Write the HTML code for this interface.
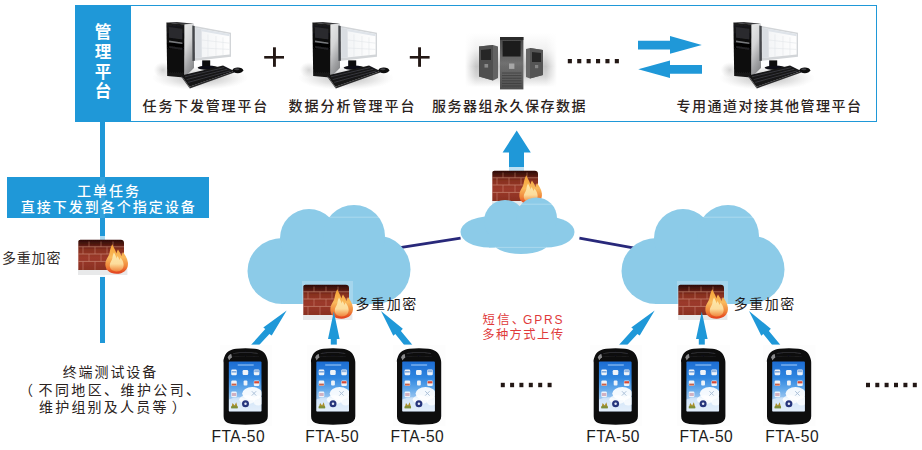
<!DOCTYPE html>
<html lang="zh-CN">
<head>
<meta charset="utf-8">
<title>管理平台 – 工单任务下发与终端数据上传架构图</title>
<style>
html,body{margin:0;padding:0;background:#fff}
body{width:922px;height:450px;overflow:hidden;font-family:"Liberation Sans",sans-serif}
#stage{position:relative;width:922px;height:450px;overflow:hidden;background:#fff}
#stage>*{position:absolute}
.platform{left:75px;top:5px;width:802px;height:117px;box-sizing:border-box;border:1px solid #1f98d8;background:#fff}
.ptitle{left:75px;top:5px;width:56.3px;height:117px;background:#1f98d8}
.vline{left:99.6px;top:122px;width:5.5px;height:221.4px;background:#1f98d8}
.banner{left:7px;top:177px;width:202px;height:41px;background:#1f98d8}
.banner i{position:absolute;left:92.6px;top:0;width:5.5px;height:41px;background:#34a2dc}
#art{left:0;top:0;width:922px;height:450px}
#art text{font-family:"Liberation Sans",sans-serif}
.tx{color:#2a2220;white-space:nowrap;line-height:1;margin-top:.4px;font-family:"Liberation Sans","Noto Sans CJK SC",sans-serif;pointer-events:none}
</style>
</head>
<body>
<div id="stage">
<div class="platform"></div>
<div class="ptitle"></div>
<div class="vline"></div>
<div class="banner"><i></i></div>
<svg id="art" width="922" height="450" viewBox="0 0 922 450">
<defs>
<linearGradient id="gSide" x1="0" y1="0" x2=".35" y2="1"><stop offset="0" stop-color="#e9eaea"/><stop offset=".45" stop-color="#d4d5d6"/><stop offset=".8" stop-color="#a2a3a5"/><stop offset="1" stop-color="#8c8d8f"/></linearGradient>
<linearGradient id="gFront" x1="0" y1="0" x2="0" y2="1"><stop offset="0" stop-color="#1d1d1f"/><stop offset=".4" stop-color="#050505"/><stop offset="1" stop-color="#141414"/></linearGradient>
<radialGradient id="gShadow" cx=".5" cy=".5" r=".5"><stop offset="0" stop-color="#777" stop-opacity=".55"/><stop offset=".6" stop-color="#999" stop-opacity=".25"/><stop offset="1" stop-color="#bbb" stop-opacity="0"/></radialGradient>
<linearGradient id="gScr" x1="0" y1="0" x2="1" y2="0"><stop offset="0" stop-color="#f1f3f5"/><stop offset="1" stop-color="#fefefe"/></linearGradient>
<filter id="soft" x="-5%" y="-5%" width="110%" height="110%"><feGaussianBlur stdDeviation=".38"/></filter>
<linearGradient id="gSrvBg" x1="0" y1="0" x2="0" y2="1"><stop offset="0" stop-color="#fff"/><stop offset=".3" stop-color="#f1f1f1"/><stop offset=".62" stop-color="#c6c6c6"/><stop offset=".8" stop-color="#d5d5d5"/><stop offset="1" stop-color="#fff"/></linearGradient>
<linearGradient id="gSrvFade" x1="0" y1="0" x2="1" y2="0"><stop offset="0" stop-color="#fff"/><stop offset=".12" stop-color="#fff" stop-opacity="0"/><stop offset=".88" stop-color="#fff" stop-opacity="0"/><stop offset="1" stop-color="#fff"/></linearGradient>
<linearGradient id="gSrv" x1="0" y1="0" x2="0" y2="1"><stop offset="0" stop-color="#474747"/><stop offset=".5" stop-color="#707070"/><stop offset="1" stop-color="#4e4e4e"/></linearGradient>
<linearGradient id="gWall" x1="0" y1="0" x2="0" y2="1"><stop offset="0" stop-color="#2c0c05"/><stop offset=".14" stop-color="#4e170d"/><stop offset=".32" stop-color="#87301f"/><stop offset=".6" stop-color="#9c3a2b"/><stop offset="1" stop-color="#8a3022"/></linearGradient>
<linearGradient id="gFlame" x1="0" y1="0" x2="0" y2="1"><stop offset="0" stop-color="#f6a233"/><stop offset=".45" stop-color="#f9b95c"/><stop offset=".74" stop-color="#f0863a"/><stop offset="1" stop-color="#e23c1b"/></linearGradient>
<linearGradient id="gFlameIn" x1="0" y1="0" x2="0" y2="1"><stop offset="0" stop-color="#fde9ac"/><stop offset=".6" stop-color="#fcdc9c"/><stop offset="1" stop-color="#f39a4c" stop-opacity=".7"/></linearGradient>
<linearGradient id="gPhScr" x1="0" y1="0" x2="0" y2="1"><stop offset="0" stop-color="#1d6cd2"/><stop offset=".32" stop-color="#2f86e0"/><stop offset=".55" stop-color="#62a8ea"/><stop offset=".78" stop-color="#a9cdf2"/><stop offset="1" stop-color="#c9def6"/></linearGradient>

<g id="pc">
 <ellipse cx="50" cy="68" rx="48" ry="12" fill="url(#gShadow)"/>
 <ellipse cx="13" cy="60" rx="9.5" ry="8" fill="url(#gShadow)" opacity=".6"/>
 <polygon points="16.4,12.4 27,11.9 44,13.8 34.4,14.8" fill="#39393b"/>
 <polygon points="34.4,14.6 44,13.8 44,58 34.2,67.6" fill="url(#gSide)"/>
 <polygon points="16.4,12.4 34.4,14.6 34.2,67.6 17.2,66" fill="url(#gFront)"/>
 <polygon points="18.8,17 32.4,18.8 32.4,29.4 19,27.8" fill="#2a2a2d"/>
 <polygon points="19,30.6 32.4,32.4 32.4,34 19,32.2" fill="#77797c"/>
 <polygon points="19.2,36 32.4,38 32.4,40 19.2,38" fill="#232325"/>
 <polygon points="42.3,15.6 81,22.7 81,46.7 45,50.8 42.3,51" fill="#d2d5d8"/>
 <polygon points="42.3,15.6 44.7,16 44.9,50.8 42.3,51" fill="#45474b"/>
 <polygon points="45.4,17.8 79.6,24.1 79.6,44.6 45.6,48.1" fill="url(#gScr)"/>
 <polygon points="45.4,17.8 51.6,18.9 51.8,47.5 45.6,48.1" fill="#d9dde2"/>
 <polygon points="51.6,18.9 79.6,24.1 79.6,26.2 51.6,21.3" fill="#dfe4ea"/>
 <g stroke="#e3e6ea" stroke-width=".6" fill="none"><path d="M58 24.4V46.6M66 26V45.8M73 27.4V45M52 30l27.6 3.2M52 38l27.6 1.4"/></g>
 <rect x="52.2" y="50.4" width="8" height="7" fill="#08080a"/>
 <ellipse cx="58" cy="57.8" rx="10.4" ry="2.2" fill="#111113"/>
 <polygon points="31.4,65.4 73,55.6 84.2,61 39.4,76.8" fill="#151517"/>
 <polygon points="31.4,65.4 39.4,76.8 39.8,78.4 31.4,67" fill="#3a3a3c"/>
 <polygon points="39.4,76.8 84.2,61 84.4,62.4 39.8,78.4" fill="#2a2a2c"/>
 <g stroke="#45454a" stroke-width=".7" fill="none"><path d="M35 66.8L74.2 57.6M36.6 69.6L77.4 59.2M38.2 72.4L80.4 60.8"/></g>
 <ellipse cx="87.8" cy="60.3" rx="5.4" ry="2.9" fill="#0c0c0e"/>
 <ellipse cx="86.8" cy="59.3" rx="2.6" ry="1" fill="#3c3c40"/>
</g>

<g id="srv">
 <rect x="25" y="13" width="92" height="54" fill="url(#gSrvBg)"/>
 <rect x="25" y="13" width="92" height="54" fill="url(#gSrvFade)"/>
 <polygon points="39,26.5 53,25 58,26.5 58,58 53,60.5 39,56.5" fill="#626262"/>
 <polygon points="39,26.5 53,25 53,60.5 39,56.5" fill="#505050"/>
 <polygon points="41,30 51,29 51,40 41,40" fill="#262626"/>
 <rect x="44.5" y="44" width="3.6" height="3.6" fill="#8a8a8a"/>
 <polygon points="86,29 90,28 103,30 103,55 90,58.5 86,57" fill="#666"/>
 <polygon points="90,28 103,30 103,55 90,58.5" fill="#545454"/>
 <polygon points="92,32 101,33 101,42 92,42" fill="#282828"/>
 <rect x="95" y="45" width="3.2" height="3.2" fill="#858585"/>
 <rect x="60" y="17" width="23.4" height="52.4" fill="url(#gSrv)"/>
 <rect x="60" y="17" width="23.4" height="3" fill="#2a2a2a"/>
 <rect x="62.6" y="21" width="18" height="15.5" fill="#1c1c1c"/>
 <rect x="69" y="43.5" width="5.4" height="5.4" fill="#a6a6a6"/>
 <g stroke="#3c3c3c" stroke-width=".8"><path d="M62 53h19.4M62 55.6h19.4M62 58.2h19.4M62 60.8h19.4M62 63.4h19.4M62 66h19.4"/></g>
</g>

<g id="fw">
 <rect x="0" y="33" width="51" height="8" fill="#fff" opacity=".85"/>
 <rect x="1" y="33" width="49.4" height="6" fill="#e8e9ea"/>
 <path d="M1.3 34V5.8C1.3 4.6 2.2 3.8 3.4 3.8H43.8C45.8 3.8 47 5 47 7V34Z" fill="url(#gWall)"/>
 <g stroke="#d79a88" stroke-width=".8" opacity=".7" fill="none">
  <path d="M1.3 10.8H47M1.3 18H47M1.3 25.4H47"/>
  <path d="M12 5.5V10.8M24 5.5V10.8M36 5.5V10.8M6 10.8V18M18 10.8V18M30 10.8V18M12 18V25.4M24 18V25.4M6 25.4V34M18 25.4V34M30 25.4V34" opacity=".8"/>
 </g>
 <path d="M39.5 37.7C32 37.7 27.8 33 28.4 27.4C28.8 23 31.6 21 32.4 17.6C33 14.4 33.6 11 35.3 8.2C36.4 11 38.6 14 39.4 17.4C39.8 16 40.2 14.8 41 13.6C42 15.6 43.8 17.6 44.4 20C44.8 18.6 45.2 17.2 46 16C47.6 18.6 50.4 22 50.9 26.6C51.6 33.6 46.6 37.7 39.5 37.7Z" fill="url(#gFlame)"/>
 <path d="M39.6 35.4C35 35.4 32.4 32.4 32.8 28.8C33.1 26 34.8 24.6 35.3 22.4C35.7 20.4 36 18.4 37 16.6C37.8 18.4 39 20.2 39.5 22.4C39.8 21.6 40 20.8 40.5 20C41.2 21.2 42.2 22.6 42.6 24C42.9 23.2 43.1 22.4 43.6 21.6C44.6 23.2 46.3 25.4 46.6 28.2C47 32.6 44 35.4 39.6 35.4Z" fill="url(#gFlameIn)"/>
</g>

<clipPath id="cScr"><rect x="5.6" y="13" width="32.7" height="50"/></clipPath>
<g id="ph">
 <rect x="-3.5" y="-3.8" width="52.5" height="81.4" fill="#fdfdfd"/>
 <path d="M13 .2Q22.3 -.9 31.6 .2C37 .8 41.5 3 43.2 8C44.2 10.5 44.6 12 44.6 14V67.6C44.6 71.2 42.6 73.4 39.8 74.3C37.2 75.1 34.6 75.5 32 75.7Q22.3 76.5 12.6 75.7C10 75.5 7.4 75.1 4.8 74.3C2 73.4 .4 71.2 .4 67.6V14C0 12 .4 10.5 1.4 8C3.1 3 7.6 .8 13 .2Z" fill="#09090a"/>
 <path d="M4.4 8.6Q5.6 5.8 8 5.2L8.8 8.8Q6.8 9.6 6 12Z" fill="#8a8a8c"/>
 <path d="M10 5Q22.3 2.6 34.6 5" stroke="#2c2c2e" stroke-width="1.4" fill="none"/>
 <path d="M9 8.2Q22.3 6.6 35.6 8.2" stroke="#1c1c1e" stroke-width="1" fill="none"/>
 <rect x="5.6" y="13" width="32.7" height="50" rx=".8" fill="url(#gPhScr)"/>
<g clip-path="url(#cScr)">
 <path d="M5.6 51Q14 47 22 50Q30 53 38.3 48V63H5.6Z" fill="#fff" opacity=".5"/>
 <ellipse cx="29" cy="45" rx="10" ry="6.6" fill="#fff" opacity=".92"/>
 <ellipse cx="24" cy="51" rx="8" ry="4.4" fill="#fff" opacity=".8"/>
 <ellipse cx="35" cy="52" rx="5" ry="5" fill="#fff" opacity=".75"/>
</g>
 <path d="M14.5 16.4H30.5" stroke="#8fc0f4" stroke-width="1.2"/>
 <g fill="#eef3f9">
  <rect x="8" y="21" width="5.6" height="5.6" rx="1.2"/><rect x="19.4" y="21.4" width="5.6" height="5" rx="1.2"/><rect x="30.6" y="21" width="5.6" height="5.6" rx="1.2"/>
  <rect x="8" y="32" width="5.6" height="5.4" rx="1.2"/><rect x="20.4" y="32" width="3.8" height="5" rx="1"/><rect x="30.6" y="32" width="5.6" height="5.4" rx="1.2"/>
  <rect x="8" y="43" width="5.6" height="5.6" rx="1.2"/>
 </g>
 <rect x="8.4" y="22.4" width="4.8" height="1.6" fill="#7fa9dc"/><rect x="31" y="21.6" width="4.8" height="2" fill="#8db1de"/>
 <rect x="8.4" y="35" width="4.8" height="2" fill="#c9624a"/><rect x="31" y="32.6" width="4.8" height="2.2" fill="#d64a36"/>
 <rect x="8.6" y="44.4" width="4.4" height="3" fill="#c9a0b4" opacity=".8"/>
 <path d="M28.6 42.6l4.4 4.4M33 42.6l-4.4 4.4" stroke="#9ab3cf" stroke-width="1" opacity=".8"/>
 <path d="M8 59.4l1.4-5 2 2.6 1.6-3.4 1.6 5.8Z" fill="#a98f2c"/><rect x="8" y="57.6" width="6.4" height="2.2" fill="#7e8f3a"/>
 <circle cx="22.3" cy="55.2" r="3.5" fill="#27357c"/><circle cx="22.3" cy="55.2" r="1.25" fill="#e4e9f6"/>
</g>

<g id="arrL"><polygon points="286.7,310.6 263.3,327.6 265.3,329.1 251.1,344.8 259.4,344.8 269.4,333.9 271.7,335.6"/></g>
<g id="arrC"><polygon points="333.8,311.5 328,339.1 330.8,339.1 330.8,344.8 336.8,344.8 336.8,339.1 339.6,339.1"/></g>
<g id="arrR"><polygon points="381,311 402.8,328.8 400.9,330.9 412.3,344.8 404,344.8 395.3,334.1 393.3,335.8"/></g>

<g id="cloud">
 <ellipse cx="282.5" cy="271" rx="35" ry="33"/>
 <circle cx="376.5" cy="269.5" r="34"/>
 <circle cx="309" cy="238" r="29"/>
 <circle cx="354" cy="236" r="31"/>
 <rect x="281" y="250" width="96" height="54"/>
</g>
</defs>

<!-- computers + server group -->
<g filter="url(#soft)"><use href="#pc" x="150" y="10"/></g>
<g filter="url(#soft)"><use href="#pc" x="296" y="10"/></g>
<g filter="url(#soft)"><use href="#pc" x="717" y="10"/></g>
<g filter="url(#soft)"><use href="#srv" x="440" y="20"/></g>

<!-- plus signs -->
<g fill="#231815">
 <rect x="264.2" y="56" width="19.8" height="2.6"/><rect x="273" y="47.3" width="2.9" height="19.5"/>
 <rect x="409.8" y="56" width="19.8" height="2.6"/><rect x="418.1" y="47.3" width="2.9" height="19.5"/>
</g>
<!-- ellipsis dots -->
<g fill="#231815">
 <rect x="567.8" y="59" width="4.1" height="4.3"/><rect x="577.2" y="59" width="4.1" height="4.3"/><rect x="586.6" y="59" width="4.1" height="4.3"/><rect x="596" y="59" width="4.1" height="4.3"/><rect x="605.4" y="59" width="4.1" height="4.3"/><rect x="614.8" y="59" width="4.1" height="4.3"/>
 <rect x="500.8" y="382.8" width="4" height="4.4"/><rect x="510.1" y="382.8" width="4" height="4.4"/><rect x="519.4" y="382.8" width="4" height="4.4"/><rect x="528.8" y="382.8" width="4" height="4.4"/><rect x="538.2" y="382.8" width="4" height="4.4"/><rect x="547.6" y="382.8" width="4" height="4.4"/>
 <rect x="866" y="382.8" width="4" height="4.4"/><rect x="875.3" y="382.8" width="4" height="4.4"/><rect x="884.6" y="382.8" width="4" height="4.4"/><rect x="894" y="382.8" width="4" height="4.4"/><rect x="903.4" y="382.8" width="4" height="4.4"/><rect x="912.8" y="382.8" width="4" height="4.4"/>
</g>
<!-- exchange arrows -->
<g fill="#1f98d8">
 <polygon points="638,40.8 670,40.8 670,36 701.8,45 670,53.8 670,49.4 638,49.4"/>
 <polygon points="702,65 670,65 670,60.4 638.2,69.2 670,78 670,73.8 702,73.8"/>
 <polygon points="516.7,130.6 530.8,152.4 524,152.4 524,171 509,171 509,152.4 502.6,152.4"/>
</g>

<!-- firewall on the work-order line -->
<rect x="77" y="236" width="51" height="41" fill="#fff" opacity=".62"/>
<g filter="url(#soft)"><use href="#fw" x="77" y="236"/></g>
<!-- firewall under the up arrow (partly hidden by the cloud) -->
<rect x="491" y="167" width="51" height="38" fill="#fff" opacity=".7"/>
<g filter="url(#soft)"><use href="#fw" x="491" y="167"/></g>

<!-- inter-cloud links -->
<g stroke="#28287a" stroke-width="2.8" fill="none"><path d="M400 247.7L460.6 238.2M579.4 238.2L636 248.4"/></g>

<!-- clouds -->
<g fill="#8ccbe8">
 <use href="#cloud"/>
 <use href="#cloud" x="374"/>
 <ellipse cx="489" cy="232" rx="28.5" ry="15.5"/><ellipse cx="546" cy="232" rx="28.5" ry="15.5"/>
 <circle cx="505" cy="221" r="21"/><circle cx="536.5" cy="218" r="20.5"/>
 <ellipse cx="521" cy="240" rx="30" ry="14"/><rect x="489" y="225" width="57" height="22.5"/>
</g>
<g stroke="#fff" stroke-width=".6" opacity=".45"><path d="M330 217.2H384M704 217.2H758M520 204.2H555M495 247.4H547"/></g>

<rect x="302" y="281" width="51" height="41" fill="#fff" opacity=".22"/>
<g filter="url(#soft)"><use href="#fw" x="302" y="281"/></g>
<rect x="677" y="281" width="51" height="41" fill="#fff" opacity=".22"/>
<g filter="url(#soft)"><use href="#fw" x="677" y="281"/></g>

<!-- upload arrows -->
<g fill="#1f98d8">
 <use href="#arrL"/><use href="#arrC"/><use href="#arrR"/>
 <use href="#arrL" x="368"/><use href="#arrC" x="368"/><use href="#arrR" x="368"/>
</g>

<!-- handsets -->
<g filter="url(#soft)"><use href="#ph" x="223.2" y="348.6"/></g>
<g filter="url(#soft)"><use href="#ph" x="310.7" y="348.6"/></g>
<g filter="url(#soft)"><use href="#ph" x="396.6" y="348.6"/></g>
<g filter="url(#soft)"><use href="#ph" x="593.3" y="348.6"/></g>
<g filter="url(#soft)"><use href="#ph" x="680.8" y="348.6"/></g>
<g filter="url(#soft)"><use href="#ph" x="766.6" y="348.6"/></g>

<!-- latin labels -->
<g font-size="15.6" fill="#1c1c1c">
<text x="211.4" y="442" textLength="53.3" lengthAdjust="spacing">FTA-50</text>
<text x="305.3" y="442" textLength="53.3" lengthAdjust="spacing">FTA-50</text>
<text x="390.5" y="442" textLength="53.3" lengthAdjust="spacing">FTA-50</text>
<text x="586.2" y="442" textLength="53.3" lengthAdjust="spacing">FTA-50</text>
<text x="679.5" y="442" textLength="53.3" lengthAdjust="spacing">FTA-50</text>
<text x="765.3" y="442" textLength="53.3" lengthAdjust="spacing">FTA-50</text>
</g>
<text x="523" y="324.4" font-size="12" fill="#e0393a" textLength="39.6" lengthAdjust="spacing">GPRS</text>
</svg>

<!-- real text layer -->
<span class="tx" style="left:94.7px;top:23px;font-size:16.6px;line-height:19.8px;width:17px;word-break:break-all;white-space:normal;font-weight:bold;color:#fff;margin-top:0">管理平台</span>
<span class="tx" style="left:142.6px;top:98.5px;font-size:14.0px;letter-spacing:1.8px;font-weight:500">任务下发管理平台</span>
<span class="tx" style="left:288.5px;top:98.5px;font-size:14.0px;letter-spacing:2.0px;font-weight:500">数据分析管理平台</span>
<span class="tx" style="left:432.1px;top:98.5px;font-size:14.0px;letter-spacing:1.5px;font-weight:500">服务器组永久保存数据</span>
<span class="tx" style="left:676.5px;top:98.5px;font-size:14.0px;letter-spacing:1.5px;font-weight:500">专用通道对接其他管理平台</span>
<span class="tx" style="left:77.0px;top:183.2px;font-size:14.0px;letter-spacing:2.0px;font-weight:500;color:#fff">工单任务</span>
<span class="tx" style="left:20.7px;top:199.5px;font-size:14.0px;letter-spacing:2.0px;font-weight:500;color:#fff">直接下发到各个指定设备</span>
<span class="tx" style="left:2.0px;top:250.8px;font-size:14.0px;letter-spacing:0.8px;color:#342d2b">多重加密</span>
<span class="tx" style="left:355.5px;top:296.7px;font-size:14.0px;letter-spacing:1.6px;color:#1f1b1b">多重加密</span>
<span class="tx" style="left:733.7px;top:296.7px;font-size:14.0px;letter-spacing:1.5px;color:#1f1b1b">多重加密</span>
<span class="tx" style="left:62.7px;top:364.9px;font-size:14.0px;letter-spacing:1.9px">终端测试设备</span>
<span class="tx" style="left:19.1px;top:382.3px;font-size:14.0px;letter-spacing:0.0px">（</span>
<span class="tx" style="left:38.5px;top:382.3px;font-size:14.0px;letter-spacing:2.4px">不同地区、维护公司、</span>
<span class="tx" style="left:39.0px;top:399.7px;font-size:14.0px;letter-spacing:2.2px">维护组别及人员等</span>
<span class="tx" style="left:171.8px;top:399.7px;font-size:14.0px;letter-spacing:0.0px">）</span>
<span class="tx" style="left:482.6px;top:313.2px;font-size:12.3px;letter-spacing:2.3px;color:#e0393a">短信、</span>
<span class="tx" style="left:482.2px;top:328.2px;font-size:12.3px;letter-spacing:1.4px;color:#e0393a">多种方式上传</span>
</div>
</body>
</html>
